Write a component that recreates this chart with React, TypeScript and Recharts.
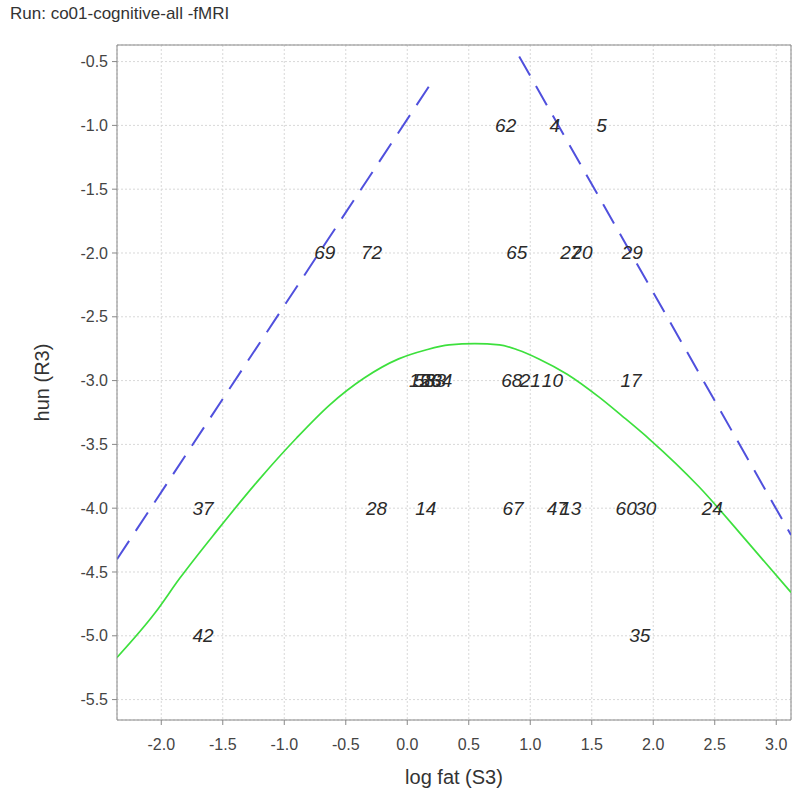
import React from 'react';
import { ComposedChart, Line, Scatter, XAxis, YAxis, CartesianGrid, ReferenceLine } from 'recharts';

// axis ranges and ticks
const xDomain = [-2.36, 3.12];
const yDomain = [-5.66, -0.37];
const xTicks = [-2.0, -1.5, -1.0, -0.5, 0.0, 0.5, 1.0, 1.5, 2.0, 2.5, 3.0];
const yTicks = [-5.5, -5.0, -4.5, -4.0, -3.5, -3.0, -2.5, -2.0, -1.5, -1.0, -0.5];

// numbered subjects drawn as italic labels
const pointLabels = [
  { x: 0.8, y: -1.0, label: '62' },
  { x: 1.2, y: -1.0, label: '4' },
  { x: 1.58, y: -1.0, label: '5' },
  { x: -0.67, y: -2.0, label: '69' },
  { x: -0.29, y: -2.0, label: '72' },
  { x: 0.89, y: -2.0, label: '65' },
  { x: 1.33, y: -2.0, label: '27' },
  { x: 1.42, y: -2.0, label: '20' },
  { x: 1.83, y: -2.0, label: '29' },
  { x: 0.1, y: -3.0, label: '15' },
  { x: 0.14, y: -3.0, label: '58' },
  { x: 0.19, y: -3.0, label: '26' },
  { x: 0.23, y: -3.0, label: '33' },
  { x: 0.28, y: -3.0, label: '34' },
  { x: 0.85, y: -3.0, label: '68' },
  { x: 1.0, y: -3.0, label: '21' },
  { x: 1.18, y: -3.0, label: '10' },
  { x: 1.82, y: -3.0, label: '17' },
  { x: -1.66, y: -4.0, label: '37' },
  { x: -0.25, y: -4.0, label: '28' },
  { x: 0.15, y: -4.0, label: '14' },
  { x: 0.86, y: -4.0, label: '67' },
  { x: 1.22, y: -4.0, label: '47' },
  { x: 1.33, y: -4.0, label: '13' },
  { x: 1.78, y: -4.0, label: '60' },
  { x: 1.94, y: -4.0, label: '30' },
  { x: 2.48, y: -4.0, label: '24' },
  { x: -1.66, y: -5.0, label: '42' },
  { x: 1.89, y: -5.0, label: '35' },
];

// fitted curve (green)
const fitCurve = [
  { x: -2.36, y: -5.17 },
  { x: -2.05, y: -4.82 },
  { x: -1.85, y: -4.55 },
  { x: -1.55, y: -4.18 },
  { x: -1.2, y: -3.77 },
  { x: -0.9, y: -3.45 },
  { x: -0.63, y: -3.19 },
  { x: -0.35, y: -2.98 },
  { x: -0.07, y: -2.83 },
  { x: 0.15, y: -2.76 },
  { x: 0.34, y: -2.72 },
  { x: 0.55, y: -2.71 },
  { x: 0.75, y: -2.72 },
  { x: 0.9, y: -2.76 },
  { x: 1.07, y: -2.83 },
  { x: 1.3, y: -2.95 },
  { x: 1.56, y: -3.13 },
  { x: 1.75, y: -3.28 },
  { x: 1.97, y: -3.46 },
  { x: 2.37, y: -3.83 },
  { x: 2.78, y: -4.28 },
  { x: 3.12, y: -4.66 },
];

// dashed bounds (blue)
const leftBound = [
  { x: -2.36, y: -4.4 },
  { x: 0.2, y: -0.66 },
];
const rightBound = [
  { x: 0.91, y: -0.46 },
  { x: 3.12, y: -4.21 },
];

const font = '"Liberation Sans", Arial, sans-serif';

const LabelShape = (props: any) => {
  const { cx, cy, payload } = props;
  return (
    <text x={cx} y={cy} textAnchor="middle" dominantBaseline="central"
      fontStyle="italic" fontSize={19} fill="#2a2a2a" fontFamily={font}>
      {payload.label}
    </text>
  );
};

const YTitle = (props: any) => {
  const { viewBox } = props;
  const cx = 42;
  const cy = viewBox.y + viewBox.height / 2;
  return (
    <text x={cx} y={cy} transform={`rotate(-90, ${cx}, ${cy})`} textAnchor="middle"
      dominantBaseline="central" fontSize={20} fill="#333" fontFamily={font}>
      hun (R3)
    </text>
  );
};

export default function App() {
  return (
    <div style={{ position: 'absolute', left: 0, top: 0, width: 793, height: 790, background: '#fff', fontFamily: font }}>
      <div style={{ position: 'absolute', left: 10, top: 4, fontSize: 17, color: '#333' }}>
        Run: co01-cognitive-all -fMRI
      </div>
      <ComposedChart width={793} height={790} margin={{ top: 45, right: 2, bottom: 0, left: 0 }}>
        <CartesianGrid stroke="#d8d8d8" strokeDasharray="2 2" />
        <XAxis type="number" dataKey="x" domain={xDomain} ticks={xTicks} allowDataOverflow
          tickFormatter={(v: number) => v.toFixed(1)} tickSize={5} tickMargin={14} height={70}
          tick={{ fontSize: 16, fill: '#444', fontFamily: font }} stroke="#888"
          label={{ value: 'log fat (S3)', position: 'insideBottom', offset: 6, fontSize: 20, fill: '#333', fontFamily: font }} />
        <YAxis type="number" dataKey="y" domain={yDomain} ticks={yTicks} allowDataOverflow
          tickFormatter={(v: number) => v.toFixed(1)} tickSize={5} tickMargin={4} width={117}
          tick={{ fontSize: 16, fill: '#444', fontFamily: font }} stroke="#888"
          label={<YTitle />} />
        <ReferenceLine y={yDomain[1]} stroke="#888" />
        <ReferenceLine x={xDomain[1]} stroke="#888" />
        <Line data={leftBound} dataKey="y" type="linear" stroke="#5050dd" strokeWidth={2}
          strokeDasharray="22 12" dot={false} isAnimationActive={false} />
        <Line data={rightBound} dataKey="y" type="linear" stroke="#5050dd" strokeWidth={2}
          strokeDasharray="22 12" dot={false} isAnimationActive={false} />
        <Line data={fitCurve} dataKey="y" type="monotone" stroke="#3de03d" strokeWidth={1.7}
          dot={false} isAnimationActive={false} />
        <Scatter data={pointLabels} dataKey="y" shape={<LabelShape />} isAnimationActive={false} />
      </ComposedChart>
    </div>
  );
}
